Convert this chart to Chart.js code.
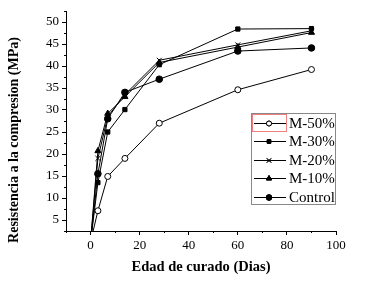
<!DOCTYPE html>
<html>
<head>
<meta charset="utf-8">
<script src="https://cdn.jsdelivr.net/npm/chart.js@4"></script>
<style>
  html, body { margin: 0; padding: 0; background: #fff; }
  #wrap { width: 373px; height: 283px; }
</style>
</head>
<body>
<div id="wrap"><canvas id="chartCurado" width="373" height="283"></canvas></div>
<script>
/* Resistencia a la compresion vs edad de curado */
const dias = [0, 3, 7, 14, 28, 60, 90];
const m50 = [0, 7.1, 14.9, 19, 27, 34.6, 39.2];
const m30 = [0, 13.5, 25, 30.1, 40.3, 48.4, 48.5];
const m20 = [0, 19, 28.5, 33.5, 41.3, 44.8, 48];
const m10 = [0, 20.7, 29.2, 33, 40.8, 44.3, 47.6];
const control = [0, 15.5, 28, 34, 37, 43.4, 44.1];

const series = ['M-50%', 'M-30%', 'M-20%', 'M-10%', 'Control'];
const xTicks = [0, 20, 40, 60, 80, 100];
const xMinor = [-10, 10, 30, 50, 70, 90];
const yTicks = [5, 10, 15, 20, 25, 30, 35, 40, 45, 50];
const yMinor = [2.5, 7.5, 12.5, 17.5, 22.5, 27.5, 32.5, 37.5, 42.5, 47.5, 52.5];

const serif = 'Liberation Serif';

const toPoints = (vals) => vals.map((v, i) => ({ x: dias[i], y: v }));

const estilos = [
  { data: m50, pointStyle: 'circle', radius: 3, fill: '#fff' },
  { data: m30, pointStyle: 'rect', radius: 3, fill: '#000' },
  { data: m20, pointStyle: 'crossRot', radius: 3.5, fill: '#000' },
  { data: m10, pointStyle: 'triangle', radius: 3.5, fill: '#000' },
  { data: control, pointStyle: 'circle', radius: 3.3, fill: '#000' },
];

let datasets = [];
for (let i in estilos) {
  datasets.push({
    label: series[i],
    data: toPoints(estilos[i].data),
    borderColor: '#000',
    borderWidth: 1,
    backgroundColor: estilos[i].fill,
    pointStyle: estilos[i].pointStyle,
    pointRadius: estilos[i].radius,
    pointBorderColor: '#000',
    pointBorderWidth: 1,
    pointBackgroundColor: estilos[i].fill,
    tension: 0,
  });
}

/* ticks menores, titulos y leyenda */
const extrasPlugin = {
  id: 'extras',
  afterDraw(chart) {
    const ctx = chart.ctx;
    const xs = chart.scales.x;
    const ys = chart.scales.y;
    const area = chart.chartArea;

    ctx.save();
    ctx.strokeStyle = '#000';
    ctx.lineWidth = 1;
    ctx.beginPath();
    xMinor.forEach((v) => {
      const px = Math.round(xs.getPixelForValue(v)) + 0.5;
      ctx.moveTo(px, area.bottom);
      ctx.lineTo(px, area.bottom + 2);
    });
    yMinor.forEach((v) => {
      const py = Math.round(ys.getPixelForValue(v)) + 0.5;
      ctx.moveTo(area.left, py);
      ctx.lineTo(area.left - 2, py);
    });
    ctx.stroke();

    // titulos de ejes
    ctx.fillStyle = '#000';
    ctx.font = 'bold 14.5px ' + serif;
    ctx.textAlign = 'center';
    ctx.textBaseline = 'middle';
    ctx.fillText('Edad de curado (Dias)', (area.left + area.right) / 2, 267);
    ctx.save();
    ctx.translate(14, 140);
    ctx.rotate(-Math.PI / 2);
    ctx.font = 'bold 14px ' + serif;
    ctx.fillText('Resistencia a la compresion (MPa)', 0, 0);
    ctx.restore();

    // leyenda
    const lx = 251, ly = 113, lw = 84, lh = 91;
    ctx.strokeStyle = '#888';
    ctx.strokeRect(lx + 0.5, ly + 0.5, lw, lh);
    ctx.strokeStyle = '#f08080';
    ctx.strokeRect(252.5, 114.5, 34, 17);
    ctx.font = '15px ' + serif;
    ctx.textAlign = 'left';
    for (let i in estilos) {
      const cy = Math.round(123 + i * 18.4) + 0.5;
      ctx.strokeStyle = '#000';
      ctx.beginPath();
      ctx.moveTo(254, cy);
      ctx.lineTo(286, cy);
      ctx.stroke();
      Chart.helpers.drawPoint(ctx, {
        pointStyle: estilos[i].pointStyle,
        radius: estilos[i].radius - 0.5,
        rotation: 0,
        borderWidth: 1,
      }, 269, cy);
      ctx.fillStyle = estilos[i].fill;
      ctx.fill();
      ctx.stroke();
      ctx.fillStyle = '#000';
      ctx.fillText(series[i], 289, cy + 1);
    }
    ctx.restore();
  },
};

const ctx = document.getElementById('chartCurado').getContext('2d');
const chartCurado = new Chart(ctx, {
  type: 'line',
  plugins: [extrasPlugin],
  data: { datasets: datasets },
  options: {
    responsive: false,
    animation: false,
    layout: { padding: { top: 11, right: 37, left: 0, bottom: 0 } },
    scales: {
      x: {
        type: 'linear',
        min: -10,
        max: 100,
        afterBuildTicks: (scale) => {
          scale.ticks = xTicks.map((v) => ({ value: v }));
        },
        afterFit: (scale) => {
          scale.height = 52;
        },
        border: { display: true, color: '#000', width: 1 },
        grid: { drawOnChartArea: false, drawTicks: true, tickLength: 4, color: '#000' },
        ticks: {
          color: '#000',
          padding: 3,
          maxRotation: 0,
          font: { family: serif, size: 13 },
        },
      },
      y: {
        type: 'linear',
        min: 2.5,
        max: 52.5,
        afterBuildTicks: (scale) => {
          scale.ticks = yTicks.map((v) => ({ value: v }));
        },
        afterFit: (scale) => {
          scale.width = 66;
        },
        border: { display: true, color: '#000', width: 1 },
        grid: { drawOnChartArea: false, drawTicks: true, tickLength: 4, color: '#000' },
        ticks: {
          color: '#000',
          padding: 3,
          font: { family: serif, size: 13 },
        },
      },
    },
    plugins: {
      legend: { display: false },
      tooltip: { enabled: false },
    },
  },
});
</script>
</body>
</html>
